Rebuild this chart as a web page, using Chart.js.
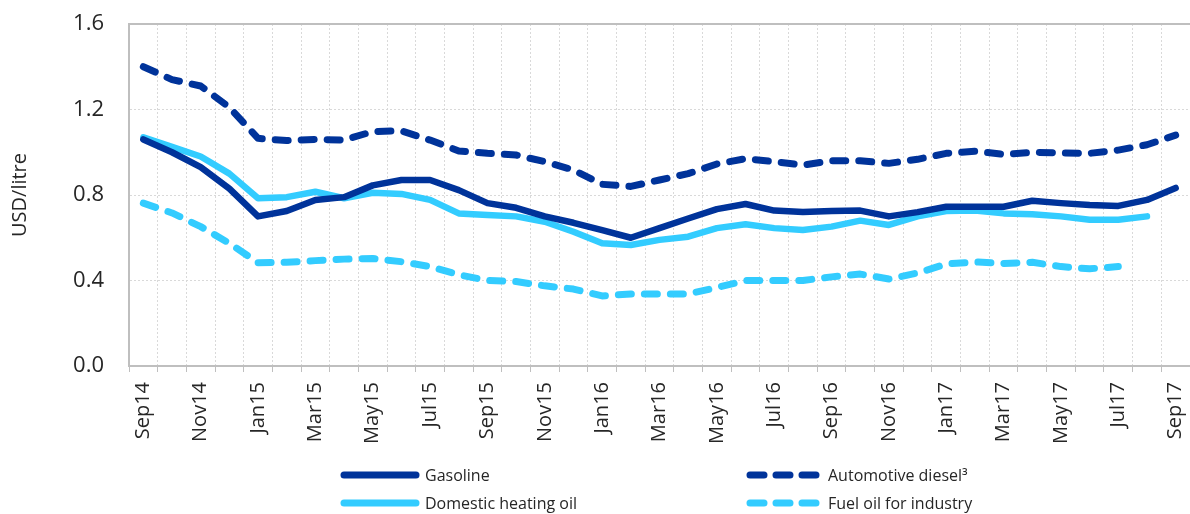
<!DOCTYPE html>
<html>
<head>
<meta charset="utf-8">
<script src="https://cdn.jsdelivr.net/npm/chart.js@4"></script>
<style>
  body { margin: 0; background: #fff; }
  .wrap { position: relative; width: 1190px; height: 514px; }
  .legend-item { position: absolute; height: 20px; display: flex; align-items: center;
    font-family: "Open Sans", sans-serif; font-size: 16px; color: #262626; white-space: nowrap; }
  .legend-item svg { margin-right: 5px; }
</style>
</head>
<body>
<div class="wrap">
  <canvas id="fuelChart" width="1190" height="514"></canvas>
  <div class="legend-item" style="left:340px; top:465px;">
    <svg width="80" height="10"><line x1="4" y1="5" x2="76" y2="5" stroke="#00339A" stroke-width="7" stroke-linecap="round"/></svg>Gasoline
  </div>
  <div class="legend-item" style="left:340px; top:493px;">
    <svg width="80" height="10"><line x1="4" y1="5" x2="76" y2="5" stroke="#33CCFF" stroke-width="7" stroke-linecap="round"/></svg>Domestic heating oil
  </div>
  <div class="legend-item" style="left:743px; top:465px;">
    <svg width="80" height="10"><line x1="7" y1="5" x2="80" y2="5" stroke="#00339A" stroke-width="7" stroke-linecap="round" stroke-dasharray="14 12"/></svg>Automotive diesel³
  </div>
  <div class="legend-item" style="left:743px; top:493px;">
    <svg width="80" height="10"><line x1="7" y1="5" x2="80" y2="5" stroke="#33CCFF" stroke-width="7" stroke-linecap="round" stroke-dasharray="14 12"/></svg>Fuel oil for industry
  </div>
</div>
<script>
const months = [
  'Sep14', 'Oct14', 'Nov14', 'Dec14', 'Jan15', 'Feb15', 'Mar15', 'Apr15', 'May15', 'Jun15',
  'Jul15', 'Aug15', 'Sep15', 'Oct15', 'Nov15', 'Dec15', 'Jan16', 'Feb16', 'Mar16', 'Apr16',
  'May16', 'Jun16', 'Jul16', 'Aug16', 'Sep16', 'Oct16', 'Nov16', 'Dec16', 'Jan17', 'Feb17',
  'Mar17', 'Apr17', 'May17', 'Jun17', 'Jul17', 'Aug17', 'Sep17'
];

const gasoline = [
  1.06, 1.00, 0.93, 0.83, 0.70, 0.725, 0.777, 0.79, 0.845, 0.87,
  0.87, 0.823, 0.762, 0.74, 0.70, 0.67, 0.636, 0.60, 0.645, 0.69,
  0.734, 0.758, 0.727, 0.72, 0.725, 0.727, 0.70, 0.72, 0.745, 0.745,
  0.745, 0.773, 0.762, 0.753, 0.749, 0.777, 0.833
];

const diesel = [
  1.40, 1.34, 1.31, 1.21, 1.065, 1.055, 1.06, 1.057, 1.097, 1.10,
  1.057, 1.006, 0.995, 0.987, 0.956, 0.917, 0.85, 0.84, 0.87, 0.90,
  0.945, 0.97, 0.956, 0.94, 0.96, 0.96, 0.948, 0.967, 0.995, 1.005,
  0.99, 1.00, 0.997, 0.995, 1.01, 1.035, 1.08
];

const heatingOil = [
  1.07, 1.025, 0.98, 0.90, 0.785, 0.79, 0.815, 0.785, 0.81, 0.805,
  0.777, 0.714, 0.706, 0.70, 0.675, 0.628, 0.574, 0.566, 0.59, 0.605,
  0.645, 0.663, 0.645, 0.636, 0.652, 0.68, 0.66, 0.70, 0.725, 0.727,
  0.714, 0.71, 0.70, 0.684, 0.684, 0.70, null
];

const fuelOil = [
  0.762, 0.716, 0.652, 0.574, 0.483, 0.485, 0.493, 0.50, 0.503, 0.488,
  0.465, 0.427, 0.40, 0.395, 0.375, 0.36, 0.328, 0.337, 0.337, 0.337,
  0.367, 0.40, 0.40, 0.40, 0.417, 0.43, 0.407, 0.435, 0.477, 0.487,
  0.48, 0.485, 0.465, 0.455, 0.465, null, null
];

const yTicks = [0, 0.4, 0.8, 1.2, 1.6];

const DARK = '#00339A';
const LIGHT = '#33CCFF';
const AXIS = '#BFBFBF';
const GRID = '#D9D9D9';

// top frame line of the plot area
const topBorder = {
  id: 'topBorder',
  afterDraw(chart) {
    const { ctx, chartArea } = chart;
    ctx.save();
    ctx.strokeStyle = AXIS;
    ctx.lineWidth = 2;
    ctx.beginPath();
    ctx.moveTo(chartArea.left, chartArea.top);
    ctx.lineTo(chartArea.right, chartArea.top);
    ctx.stroke();
    ctx.restore();
  }
};

function series(label, data, color, dashed) {
  return {
    label: label,
    data: data,
    borderColor: color,
    backgroundColor: color,
    borderWidth: dashed ? 7 : 6.5,
    borderDash: dashed ? [13, 13] : [],
    borderCapStyle: 'round',
    borderJoinStyle: 'round',
    pointRadius: 0,
    tension: 0,
    spanGaps: false
  };
}

new Chart(document.getElementById('fuelChart'), {
  type: 'line',
  data: {
    labels: months,
    datasets: [
      series('Gasoline', gasoline, DARK, false),
      series('Automotive diesel³', diesel, DARK, true),
      series('Domestic heating oil', heatingOil, LIGHT, false),
      series('Fuel oil for industry', fuelOil, LIGHT, true)
    ]
  },
  options: {
    responsive: false,
    animation: false,
    layout: { padding: { top: 24, right: 0, left: 0, bottom: 0 } },
    plugins: {
      legend: { display: false },
      tooltip: { enabled: false }
    },
    scales: {
      x: {
        offset: true,
        afterFit(scale) {
          scale.height = 148;
          scale.paddingLeft = 0;
          scale.paddingRight = 0;
        },
        grid: {
          offset: true,
          color: GRID,
          lineWidth: 1,
          tickLength: 6,
          tickColor: AXIS,
          tickBorderDash: []
        },
        border: { color: AXIS, width: 2, dash: [2, 2] },
        ticks: {
          autoSkip: false,
          minRotation: 90,
          maxRotation: 90,
          padding: 10,
          color: '#262626',
          font: { family: 'Open Sans', size: 20 },
          callback: (v, i) => (i % 2 === 0 ? months[i] : '')
        }
      },
      y: {
        min: 0,
        max: 1.6,
        afterFit(scale) {
          scale.width = 129;
          scale.paddingTop = 0;
          scale.paddingBottom = 0;
        },
        afterBuildTicks(scale) { scale.ticks = yTicks.map(v => ({ value: v })); },
        grid: { color: GRID, lineWidth: 1, drawTicks: false },
        border: { color: AXIS, width: 2, dash: [2, 2] },
        ticks: {
          padding: 25,
          color: '#262626',
          font: { family: 'Open Sans', size: 22 },
          callback: v => v.toFixed(1)
        },
        title: {
          display: true,
          text: 'USD/litre',
          color: '#262626',
          font: { family: 'Open Sans', size: 20 },
          padding: { top: 8, bottom: 0 }
        }
      }
    }
  },
  plugins: [topBorder]
});
</script>
</body>
</html>
